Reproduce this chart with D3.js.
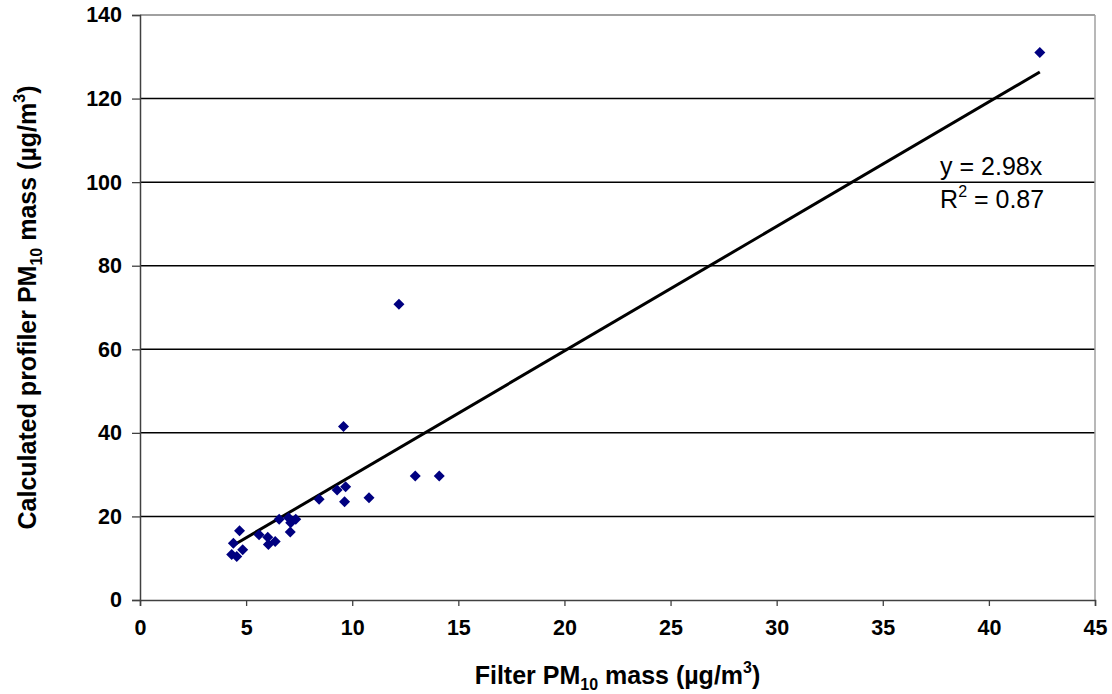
<!DOCTYPE html>
<html>
<head>
<meta charset="utf-8">
<script src="https://cdn.jsdelivr.net/npm/d3@7"></script>
<style>
  body { margin: 0; background: #fff; }
  svg { font-family: Arial, "Liberation Sans", sans-serif; }
</style>
</head>
<body>
<svg id="chart" width="1112" height="694"></svg>
<script>
// filter vs profiler PM10 mass
const filterMass = [9.59, 12.97, 14.1, 9.29, 9.69, 8.44, 9.64, 10.79, 6.56, 7.0, 7.34, 7.1,
  7.08, 4.69, 5.61, 6.02, 6.37, 6.05, 4.4, 4.84, 4.32, 4.56, 12.2, 42.4];
const profilerMass = [41.5, 29.7, 29.7, 26.3, 27.1, 24.1, 23.5, 24.5, 19.3, 19.7, 19.3, 18.5,
  16.3, 16.6, 15.6, 15.0, 14.0, 13.3, 13.6, 12.0, 10.9, 10.4, 70.8, 131];
const slope = 2.98;
const xTicks = [0, 5, 10, 15, 20, 25, 30, 35, 40, 45];
const yTicks = [0, 20, 40, 60, 80, 100, 120, 140];

const margin = {top: 15, right: 17, bottom: 94, left: 140};
const width = 1112 - margin.left - margin.right;
const height = 694 - margin.top - margin.bottom;

const svg = d3.select('#chart');
const g = svg.append('g').attr('transform', `translate(${margin.left},${margin.top})`);

const x = d3.scaleLinear().domain([0, 45]).range([0, width]);
const y = d3.scaleLinear().domain([0, 140]).range([height, 0]);

// gridlines
g.selectAll('.grid')
  .data(yTicks.filter(d => d > 0 && d < 140))
  .enter().append('line')
  .attr('x1', 0).attr('x2', width)
  .attr('y1', d => y(d)).attr('y2', d => y(d))
  .attr('stroke', '#000').attr('stroke-width', 1.5);

// frame top/right
g.append('line').attr('x1', 0).attr('x2', width).attr('y1', 0).attr('y2', 0)
  .attr('stroke', '#808080').attr('stroke-width', 1.5);
g.append('line').attr('x1', width).attr('x2', width).attr('y1', 0).attr('y2', height)
  .attr('stroke', '#a0a0a0').attr('stroke-width', 1.5);

// axes
const xAxis = g.append('g')
  .attr('transform', `translate(0,${height})`)
  .call(d3.axisBottom(x).tickValues(xTicks).tickSize(6).tickPadding(14));
const yAxis = g.append('g')
  .call(d3.axisLeft(y).tickValues(yTicks).tickSize(8).tickPadding(10));

[xAxis, yAxis].forEach(a => {
  a.select('.domain').attr('stroke', '#404040').attr('stroke-width', 1.5);
  a.selectAll('.tick line').attr('stroke', '#404040').attr('stroke-width', 1.3);
  a.selectAll('.tick text')
    .attr('font-family', 'Arial, "Liberation Sans", sans-serif')
    .attr('font-size', 21.5).attr('font-weight', 'bold').attr('fill', '#000');
});

// trend line y = 2.98x over the data range
const x0 = d3.min(filterMass), x1 = d3.max(filterMass);
g.append('line')
  .attr('x1', x(x0)).attr('y1', y(slope * x0))
  .attr('x2', x(x1)).attr('y2', y(slope * x1))
  .attr('stroke', '#000').attr('stroke-width', 3);

// points
const pts = filterMass.map((d, i) => ({x: d, y: profilerMass[i]}));
g.selectAll('.pt')
  .data(pts)
  .enter().append('path')
  .attr('d', 'M0,-5.5L5.5,0L0,5.5L-5.5,0Z')
  .attr('transform', d => `translate(${x(d.x)},${y(d.y)})`)
  .attr('fill', '#000080');

// equation label
g.append('text')
  .attr('x', x(37.7)).attr('y', 160)
  .attr('font-size', 25).attr('fill', '#000')
  .text('y = 2.98x');
const r2 = g.append('text')
  .attr('x', x(37.7)).attr('y', 193)
  .attr('font-size', 25).attr('fill', '#000');
r2.append('tspan').text('R');
r2.append('tspan').attr('font-size', 16).attr('dy', -11).text('2');
r2.append('tspan').attr('dy', 11).text(' = 0.87');

// axis titles
const xt = svg.append('text')
  .attr('x', margin.left + width / 2).attr('y', 684)
  .attr('text-anchor', 'middle')
  .attr('font-size', 25).attr('font-weight', 'bold');
xt.append('tspan').text('Filter PM');
xt.append('tspan').attr('font-size', 16).attr('dy', 6).text('10');
xt.append('tspan').attr('dy', -6).text(' mass (µg/m');
xt.append('tspan').attr('font-size', 16).attr('dy', -11).text('3');
xt.append('tspan').attr('dy', 11).text(')');

const yt = svg.append('text')
  .attr('transform', `translate(36,${margin.top + height / 2}) rotate(-90)`)
  .attr('text-anchor', 'middle')
  .attr('font-size', 25).attr('font-weight', 'bold');
yt.append('tspan').text('Calculated profiler PM');
yt.append('tspan').attr('font-size', 16).attr('dy', 6).text('10');
yt.append('tspan').attr('dy', -6).text(' mass (µg/m');
yt.append('tspan').attr('font-size', 16).attr('dy', -11).text('3');
yt.append('tspan').attr('dy', 11).text(')');
</script>
</body>
</html>
